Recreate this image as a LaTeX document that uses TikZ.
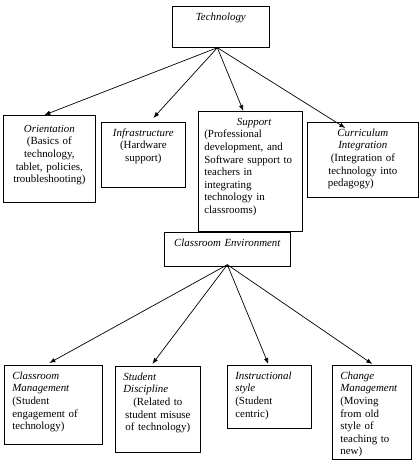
\documentclass[tikz,border=0pt]{standalone}
\usepackage{fontspec}
\setmainfont{Liberation Serif}
\usetikzlibrary{arrows.meta}
\tikzset{
    box/.style={draw, line width=0.7pt, anchor=north west, inner ysep=4pt, text height=10pt, font=\fontsize{10.9}{12.6}\selectfont},
    cbox/.style={box, align=center, inner xsep=4pt},
    lbox/.style={box, align=left, inner xsep=8pt},
    arr/.style={-{Latex[length=6pt,width=4.5pt]}, line width=0.7pt}
}

\begin{document}
\begin{tikzpicture}[x=1pt, y=-1pt]
    \useasboundingbox (0,0) rectangle (419,463);
    \node[cbox, text width=89pt, text depth=23pt] (tech) at (172,6) {\textit{Technology}};
    \node[cbox, text width=84pt, text height=13pt, text depth=66pt] (orient) at (3,115) {\textit{Orientation}\\(Basics of\\technology,\\tablet, policies,\\troubleshooting)};
    \node[cbox, text width=76pt, text depth=47pt] (infra) at (101,122) {\textit{Infrastructure}\\(Hardware\\support)};
    \node[lbox, inner xsep=6pt, text width=92pt, text depth=102pt] (support) at (198,111) {\makebox[\linewidth]{\hspace{8pt}\textit{Support}}\\(Professional\\development, and\\Software support to\\teachers in\\integrating\\technology in\\classrooms)};
    \node[cbox, text width=103pt, text depth=57pt] (curric) at (307,122) {\textit{Curriculum}\\\textit{Integration}\\(Integration of\\technology into\\\hspace*{-24pt}pedagogy)};
    \node[cbox, text width=118pt, text depth=16pt] (env) at (164,232) {\textit{Classroom Environment}};
    \node[lbox, text width=82pt, text depth=61pt] (mgmt) at (4,365) {\textit{Classroom}\\\textit{Management}\\(Student\\engagement of\\technology)};
    \node[cbox, text width=77pt, text depth=68pt] (discip) at (115,366) {\makebox[\linewidth][l]{\hspace*{4pt}\textit{Student}}\\\makebox[\linewidth][l]{\hspace*{4pt}\textit{Discipline}}\\(Related to\\student misuse\\of technology)};
    \node[lbox, text width=68pt, text depth=45pt] (instr) at (227,365) {\textit{Instructional}\\\textit{style}\\(Student\\centric)};
    \node[lbox, text width=63pt, text depth=76pt] (change) at (332,365) {\textit{Change}\\\textit{Management}\\(Moving\\from old\\style of\\teaching to\\new)};
    % technology to its four parts
    \draw[arr] ([xshift=-3.5pt]tech.south) -- ([xshift=-5pt]orient.north);
    \draw[arr] ([xshift=-3.5pt]tech.south) -- ([xshift=10pt,yshift=4pt]infra.north);
    \draw[arr] ([xshift=-3.5pt]tech.south) -- ([xshift=-7pt]support.north);
    \draw[arr] ([xshift=-3.5pt]tech.south) -- ([xshift=-17.5pt,yshift=-6pt]curric.north);
    % classroom environment to its four parts
    \draw[arr] ([yshift=2pt]env.south) -- ([xshift=-4pt,yshift=2pt]mgmt.north);
    \draw[arr] ([yshift=2pt]env.south) -- ([xshift=-5.5pt,yshift=2pt]discip.north);
    \draw[arr] ([yshift=2pt]env.south) -- ([xshift=-1pt,yshift=1pt]instr.north);
    \draw[arr] ([yshift=2pt]env.south) -- ([xshift=0.5pt,yshift=1pt]change.north);
\end{tikzpicture}
\end{document}
